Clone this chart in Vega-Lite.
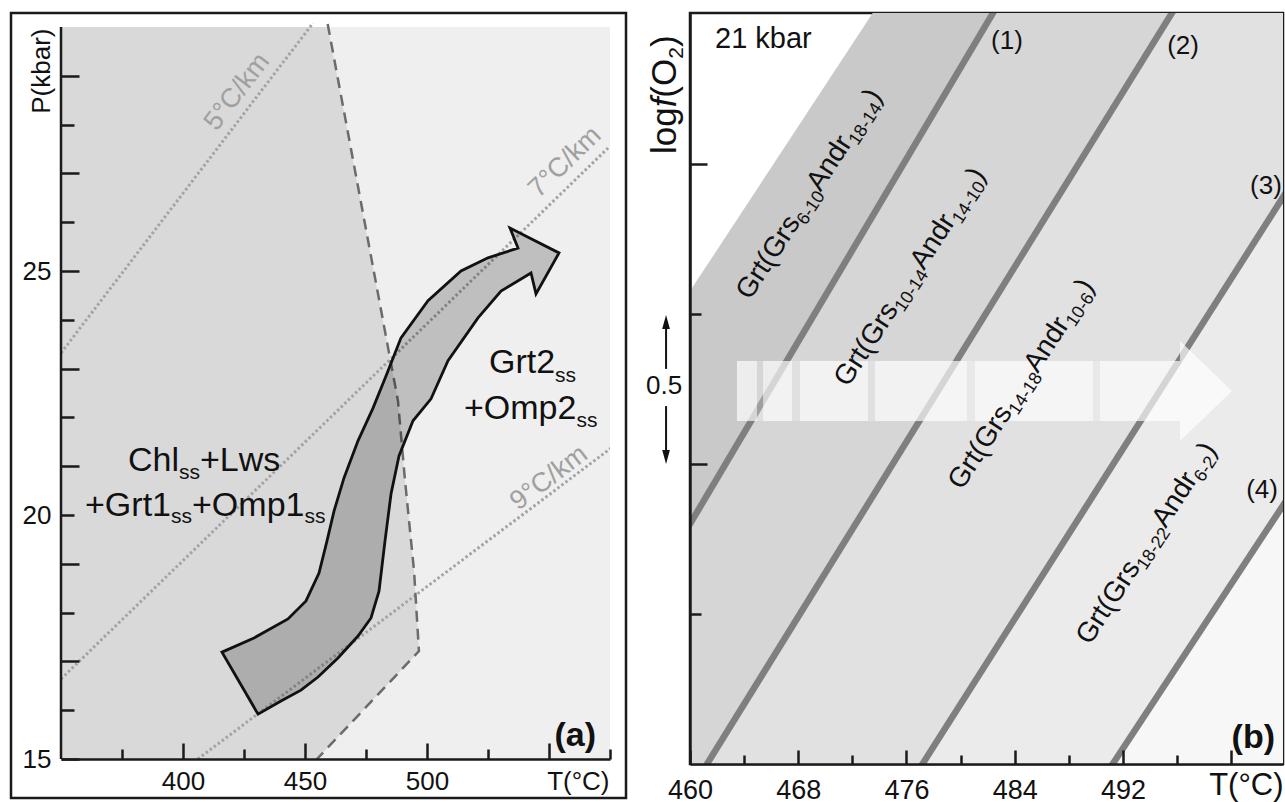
{
  "$schema": "https://vega.github.io/schema/vega-lite/v6.json",
  "background": "white",
  "padding": {"left": 9, "top": 11, "right": 0, "bottom": 0},
  "spacing": 80,
  "bounds": "flush",
  "config": {
    "view": {"stroke": null},
    "font": "Liberation Sans",
    "text": {"font": "Liberation Sans", "color": "#111111"},
    "axis": {
      "zindex": 1, "grid": false, "labelFlush": false,
      "domainColor": "#1a1a1a", "domainWidth": 2.5,
      "tickColor": "#1a1a1a", "tickWidth": 2.5,
      "labelFont": "Liberation Sans", "labelFontSize": 26, "labelColor": "#111111",
      "titleFont": "Liberation Sans", "titleFontSize": 26, "titleFontWeight": "normal", "titleColor": "#111111"
    }
  },
  "datasets": {
    "darkA": [
      {"P": 15, "T": 454.9}, {"P": 17.21, "T": 496.7}, {"P": 18.85, "T": 494.7},
      {"P": 20.7, "T": 491.0}, {"P": 22.34, "T": 488.1}, {"P": 30, "T": 459.4}
    ],
    "geoA": [
      {"g": "5", "T": 350, "P": 23.32}, {"g": "5", "T": 453.3, "P": 30.08},
      {"g": "7", "T": 350, "P": 16.64}, {"g": "7", "T": 574.2, "P": 27.52},
      {"g": "9", "T": 406.1, "P": 15}, {"g": "9", "T": 575.4, "P": 21.37}
    ],
    "dashA": [
      {"i": 1, "T": 459.3, "P": 30.06}, {"i": 2, "T": 488.1, "P": 22.34}, {"i": 3, "T": 491.0, "P": 20.7},
      {"i": 4, "T": 494.7, "P": 18.85}, {"i": 5, "T": 496.7, "P": 17.21}, {"i": 6, "T": 454.9, "P": 15.0}
    ],
    "ptA": [
      {"i": 1, "T": 415.98, "P": 17.19}, {"i": 2, "T": 429.10, "P": 17.48}, {"i": 3, "T": 443.03, "P": 17.87},
      {"i": 4, "T": 450.41, "P": 18.24}, {"i": 5, "T": 455.74, "P": 18.81}, {"i": 6, "T": 459.02, "P": 19.47},
      {"i": 7, "T": 461.89, "P": 20.08}, {"i": 8, "T": 465.98, "P": 20.76}, {"i": 9, "T": 471.72, "P": 21.52},
      {"i": 10, "T": 477.87, "P": 22.19}, {"i": 11, "T": 483.20, "P": 22.85}, {"i": 12, "T": 489.34, "P": 23.63},
      {"i": 13, "T": 500.41, "P": 24.39}, {"i": 14, "T": 513.93, "P": 25.00}, {"i": 15, "T": 525.00, "P": 25.27},
      {"i": 16, "T": 537.30, "P": 25.47}, {"i": 17, "T": 534.02, "P": 25.88}, {"i": 18, "T": 554.10, "P": 25.37},
      {"i": 19, "T": 544.67, "P": 24.53}, {"i": 20, "T": 542.62, "P": 24.96}, {"i": 21, "T": 530.33, "P": 24.59},
      {"i": 22, "T": 520.90, "P": 24.04}, {"i": 23, "T": 508.61, "P": 23.16}, {"i": 24, "T": 501.64, "P": 22.38},
      {"i": 25, "T": 494.26, "P": 21.93}, {"i": 26, "T": 488.52, "P": 21.21}, {"i": 27, "T": 485.25, "P": 20.43},
      {"i": 28, "T": 482.79, "P": 19.47}, {"i": 29, "T": 480.33, "P": 18.44}, {"i": 30, "T": 477.05, "P": 17.89},
      {"i": 31, "T": 471.72, "P": 17.52}, {"i": 32, "T": 463.52, "P": 17.07}, {"i": 33, "T": 455.33, "P": 16.68},
      {"i": 34, "T": 448.36, "P": 16.41}, {"i": 35, "T": 440.16, "P": 16.19}, {"i": 36, "T": 430.74, "P": 15.92}
    ],
    "mainA": [
      {"T": 377.46, "P": 20.902, "text": "Chl"}, {"T": 406.97, "P": 20.902, "text": "+Lws"},
      {"T": 359.84, "P": 19.98, "text": "+Grt1"}, {"T": 403.69, "P": 19.98, "text": "+Omp1"},
      {"T": 525.41, "P": 22.91, "text": "Grt2"}, {"T": 515.16, "P": 21.967, "text": "+Omp2"}
    ],
    "subA": [
      {"T": 398.36, "P": 20.738, "text": "ss"}, {"T": 395.08, "P": 19.836, "text": "ss"},
      {"T": 449.75, "P": 19.836, "text": "ss"}, {"T": 552.46, "P": 22.725, "text": "ss"},
      {"T": 561.23, "P": 21.803, "text": "ss"}
    ],
    "zonesB": [
      {"id": 0, "T": 455, "L": 1.233}, {"id": 0, "T": 510, "L": 5.009},
      {"id": 1, "T": 455, "L": 0.4197}, {"id": 1, "T": 510, "L": 4.603},
      {"id": 2, "T": 455, "L": -0.456}, {"id": 2, "T": 510, "L": 3.551},
      {"id": 3, "T": 455, "L": -1.573}, {"id": 3, "T": 510, "L": 2.327},
      {"id": 4, "T": 455, "L": -2.481}, {"id": 4, "T": 510, "L": 1.284}
    ],
    "barsB": [
      {"T": 463.47, "T2": 464.95, "L": 1.143, "L2": 1.343}, {"T": 465.40, "T2": 467.54, "L": 1.143, "L2": 1.343},
      {"T": 468.13, "T2": 473.16, "L": 1.143, "L2": 1.343}, {"T": 473.67, "T2": 480.47, "L": 1.143, "L2": 1.343},
      {"T": 481.06, "T2": 489.79, "L": 1.143, "L2": 1.343}, {"T": 490.30, "T2": 496.22, "L": 1.143, "L2": 1.343}
    ],
    "rotMainB": [
      {"T": 464.43, "L": 1.543, "text": "Grt(Grs"}, {"T": 469.65, "L": 1.905, "text": "Andr"}, {"T": 473.87, "L": 2.199, "text": ")"},
      {"T": 471.68, "L": 1.253, "text": "Grt(Grs"}, {"T": 477.29, "L": 1.643, "text": "Andr"}, {"T": 481.52, "L": 1.937, "text": ")"},
      {"T": 480.10, "L": 0.91, "text": "Grt(Grs"}, {"T": 485.71, "L": 1.30, "text": "Andr"}, {"T": 489.54, "L": 1.566, "text": ")"},
      {"T": 489.56, "L": 0.393, "text": "Grt(Grs"}, {"T": 495.17, "L": 0.783, "text": "Andr"}, {"T": 498.60, "L": 1.021, "text": ")"}
    ],
    "rotSubB": [
      {"T": 468.56, "L": 1.793, "text": "6-10"}, {"T": 472.39, "L": 2.059, "text": "18-14"},
      {"T": 475.80, "L": 1.503, "text": "10-14"}, {"T": 480.04, "L": 1.797, "text": "14-10"},
      {"T": 484.23, "L": 1.16, "text": "14-18"}, {"T": 488.46, "L": 1.454, "text": "10-6"},
      {"T": 493.69, "L": 0.643, "text": "18-22"}, {"T": 497.92, "L": 0.937, "text": "6-2"}
    ],
    "numB": [
      {"T": 483.43, "L": 2.41, "text": "(1)"}, {"T": 496.44, "L": 2.393, "text": "(2)"},
      {"T": 502.57, "L": 1.927, "text": "(3)"}, {"T": 502.28, "L": 0.913, "text": "(4)"},
      {"T": 458.08, "L": 1.26, "text": "0.5"}
    ]
  },
  "hconcat": [
    {
      "width": 549,
      "height": 746,
      "view": {"stroke": null},
      "encoding": {
        "x": {
          "field": "T", "type": "quantitative",
          "scale": {"domain": [350, 575], "nice": false, "zero": false},
          "axis": {
            "zindex": 2,
            "values": [375, 400, 425, 450, 475, 500, 525, 550, 575],
            "labelExpr": "(datum.value == 400 || datum.value == 450 || datum.value == 500) ? datum.label : ''",
            "tickSize": {"condition": {"test": "datum.value % 50 == 0", "value": -16}, "value": -10},
            "labelPadding": 25,
            "title": "T(°C)", "titleX": 548, "titleY": 30, "titleAlign": "right", "titleBaseline": "alphabetic"
          }
        },
        "y": {
          "field": "P", "type": "quantitative",
          "scale": {"domain": [15, 30.287], "nice": false, "zero": false},
          "axis": {
            "zindex": 2,
            "values": [15, 16, 17, 18, 19, 20, 21, 22, 23, 24, 25, 26, 27, 28, 29],
            "labelExpr": "(datum.value == 15 || datum.value == 20 || datum.value == 25) ? datum.label : ''",
            "tickSize": {"condition": {"test": "datum.value % 2 == 1", "value": -18}, "value": -13},
            "labelPadding": {"condition": {"test": "datum.value % 2 == 1", "value": 28}, "value": 23},
            "domain": false,
            "title": "P(kbar)", "titleX": -12, "titleY": 15, "titleAlign": "right", "titleBaseline": "alphabetic", "titleAngle": 270
          }
        }
      },
      "layer": [
        {
          "data": {"values": [{"T": 350, "T2": 575, "P": 15, "P2": 30}]},
          "mark": {"type": "rect", "color": "#efefef"},
          "encoding": {"x2": {"field": "T2"}, "y2": {"field": "P2"}}
        },
        {
          "data": {"name": "darkA"},
          "mark": {"type": "area", "orient": "horizontal", "color": "#d9d9d9"},
          "encoding": {"x2": {"datum": 350}}
        },
        {
          "data": {"name": "geoA"},
          "mark": {"type": "line", "color": "#a3a3a3", "strokeWidth": 3, "strokeDash": [2.5, 2.5], "clip": true},
          "encoding": {"detail": {"field": "g"}}
        },
        {
          "data": {"name": "dashA"},
          "mark": {"type": "line", "color": "#6b6b6b", "strokeWidth": 2.5, "strokeDash": [11, 7]},
          "encoding": {"order": {"field": "i"}}
        },
        {
          "data": {"name": "ptA"},
          "mark": {"type": "line", "interpolate": "linear-closed", "fill": "#000000", "fillOpacity": 0.2, "stroke": "#111111", "strokeWidth": 2.8, "strokeJoin": "miter"},
          "encoding": {"order": {"field": "i"}}
        },
        {
          "data": {"values": [{"T": 422.13, "P": 28.67, "text": "5°C/km"}]},
          "mark": {"type": "text", "angle": 307.4, "fontSize": 27, "color": "#a0a0a0", "align": "center", "baseline": "middle"},
          "encoding": {"text": {"field": "text"}}
        },
        {
          "data": {"values": [{"T": 556.56, "P": 27.23, "text": "7°C/km"}]},
          "mark": {"type": "text", "angle": 316, "fontSize": 27, "color": "#a0a0a0", "align": "center", "baseline": "middle"},
          "encoding": {"text": {"field": "text"}}
        },
        {
          "data": {"values": [{"T": 550.0, "P": 20.76, "text": "9°C/km"}]},
          "mark": {"type": "text", "angle": 323, "fontSize": 27, "color": "#a0a0a0", "align": "center", "baseline": "middle"},
          "encoding": {"text": {"field": "text"}}
        },
        {
          "data": {"name": "mainA"},
          "mark": {"type": "text", "fontSize": 34, "align": "left", "baseline": "alphabetic"},
          "encoding": {"text": {"field": "text"}}
        },
        {
          "data": {"name": "subA"},
          "mark": {"type": "text", "fontSize": 21, "align": "left", "baseline": "alphabetic"},
          "encoding": {"text": {"field": "text"}}
        },
        {
          "data": {"values": [{"T": 569.26, "P": 15.27, "text": "(a)"}]},
          "mark": {"type": "text", "fontSize": 34, "fontWeight": "bold", "align": "right", "baseline": "alphabetic"},
          "encoding": {"text": {"field": "text"}}
        },
        {
          "data": {"values": [{"T": 329.51, "T2": 581.56, "P": 30.287, "P2": 14.2}]},
          "mark": {"type": "rect", "filled": false, "stroke": "#1a1a1a", "strokeWidth": 2.5},
          "encoding": {"x2": {"field": "T2"}, "y2": {"field": "P2"}}
        },
        {
          "data": {"values": [{"T": 350, "P": 15, "P2": 30}]},
          "mark": {"type": "rule", "color": "#1a1a1a", "strokeWidth": 2.5},
          "encoding": {"y2": {"field": "P2"}}
        }
      ]
    },
    {
      "width": 593,
      "height": 751,
      "view": {"stroke": "#1a1a1a", "strokeWidth": 2.5},
      "encoding": {
        "x": {
          "field": "T", "type": "quantitative",
          "scale": {"domain": [460, 503.83], "nice": false, "zero": false},
          "axis": {
            "zindex": 2,
            "values": [460, 464, 468, 472, 476, 480, 484, 488, 492, 496, 500],
            "labelExpr": "(datum.value % 8 == 4 && datum.value < 500) ? datum.label : ''",
            "tickSize": {"condition": {"test": "datum.value % 8 == 4", "value": -14}, "value": -9},
            "labelPadding": 27,
            "labelFontSize": 27,
            "title": "T(°C)", "titleX": 593, "titleY": 30, "titleAlign": "right", "titleBaseline": "alphabetic", "titleFontSize": 31
          }
        },
        "y": {
          "field": "L", "type": "quantitative",
          "scale": {"domain": [0, 2.5033], "nice": false, "zero": false},
          "axis": {
            "zindex": 2,
            "values": [0.5, 1, 1.5, 2],
            "labels": false,
            "tickSize": {"condition": {"test": "datum.value % 1 == 0", "value": -17}, "value": -11},
            "title": null
          }
        }
      },
      "layer": [
        {"data": {"name": "zonesB"}, "transform": [{"filter": "datum.id == 0"}], "mark": {"type": "area", "color": "#c9c9c9", "clip": true}, "encoding": {"y2": {"datum": -3}}},
        {"data": {"name": "zonesB"}, "transform": [{"filter": "datum.id == 1"}], "mark": {"type": "area", "color": "#d6d6d6", "clip": true}, "encoding": {"y2": {"datum": -3}}},
        {"data": {"name": "zonesB"}, "transform": [{"filter": "datum.id == 2"}], "mark": {"type": "area", "color": "#e1e1e1", "clip": true}, "encoding": {"y2": {"datum": -3}}},
        {"data": {"name": "zonesB"}, "transform": [{"filter": "datum.id == 3"}], "mark": {"type": "area", "color": "#ebebeb", "clip": true}, "encoding": {"y2": {"datum": -3}}},
        {"data": {"name": "zonesB"}, "transform": [{"filter": "datum.id == 4"}], "mark": {"type": "area", "color": "#f7f7f7", "clip": true}, "encoding": {"y2": {"datum": -3}}},
        {
          "data": {"name": "zonesB"}, "transform": [{"filter": "datum.id > 0"}],
          "mark": {"type": "line", "color": "#7f7f7f", "strokeWidth": 6.5, "clip": true},
          "encoding": {"detail": {"field": "id"}}
        },
        {
          "data": {"values": [{"T": 463.47, "T2": 496.22, "L": 1.143, "L2": 1.343}]},
          "mark": {"type": "rect", "color": "#ffffff", "opacity": 0.25},
          "encoding": {"x2": {"field": "T2"}, "y2": {"field": "L2"}}
        },
        {
          "data": {"name": "barsB"},
          "mark": {"type": "rect", "color": "#ffffff", "opacity": 0.57},
          "encoding": {"x2": {"field": "T2"}, "y2": {"field": "L2"}}
        },
        {
          "data": {"values": [{"T": 496.22, "L": 1.41, "L2": 1.077}, {"T": 500.06, "L": 1.243, "L2": 1.243}]},
          "mark": {"type": "area", "color": "#ffffff", "opacity": 0.68},
          "encoding": {"y2": {"field": "L2"}}
        },
        {
          "data": {"name": "rotMainB"},
          "mark": {"type": "text", "angle": 303, "fontSize": 28, "align": "left", "baseline": "alphabetic"},
          "encoding": {"text": {"field": "text"}}
        },
        {
          "data": {"name": "rotSubB"},
          "mark": {"type": "text", "angle": 303, "fontSize": 18, "align": "left", "baseline": "alphabetic"},
          "encoding": {"text": {"field": "text"}}
        },
        {
          "data": {"name": "numB"},
          "mark": {"type": "text", "fontSize": 26, "align": "center", "baseline": "middle"},
          "encoding": {"text": {"field": "text"}}
        },
        {
          "data": {"values": [{"T": 461.85, "L": 2.387, "text": "21 kbar"}]},
          "mark": {"type": "text", "fontSize": 29, "align": "left", "baseline": "alphabetic"},
          "encoding": {"text": {"field": "text"}}
        },
        {
          "data": {"values": [{"T": 503.24, "L": 0.053, "text": "(b)"}]},
          "mark": {"type": "text", "fontSize": 34, "fontWeight": "bold", "align": "right", "baseline": "alphabetic"},
          "encoding": {"text": {"field": "text"}}
        },
        {
          "data": {"values": [{"T": 458.94, "L": 2.033, "text": "log"}, {"T": 458.94, "L": 2.221, "text": "(O"}, {"T": 458.94, "L": 2.39, "text": ")"}]},
          "mark": {"type": "text", "angle": 270, "fontSize": 35, "align": "left", "baseline": "alphabetic"},
          "encoding": {"text": {"field": "text"}}
        },
        {
          "data": {"values": [{"T": 458.94, "L": 2.189, "text": "f"}]},
          "mark": {"type": "text", "angle": 270, "fontSize": 35, "fontStyle": "italic", "align": "left", "baseline": "alphabetic"},
          "encoding": {"text": {"field": "text"}}
        },
        {
          "data": {"values": [{"T": 459.45, "L": 2.351, "text": "2"}]},
          "mark": {"type": "text", "angle": 270, "fontSize": 21, "align": "left", "baseline": "alphabetic"},
          "encoding": {"text": {"field": "text"}}
        },
        {
          "data": {"values": [{"T": 458.23, "L": 1.317, "L2": 1.46}, {"T": 458.23, "L": 1.193, "L2": 1.037}]},
          "mark": {"type": "rule", "color": "#111111", "strokeWidth": 2},
          "encoding": {"y2": {"field": "L2"}}
        },
        {
          "data": {"values": [{"T": 458.23, "L": 1.473}]},
          "mark": {"type": "point", "shape": "M0,-1L0.55,1L-0.55,1Z", "size": 196, "filled": true, "color": "#111111", "opacity": 1},
          "encoding": {}
        },
        {
          "data": {"values": [{"T": 458.23, "L": 1.023}]},
          "mark": {"type": "point", "shape": "M0,1L0.55,-1L-0.55,-1Z", "size": 196, "filled": true, "color": "#111111", "opacity": 1},
          "encoding": {}
        }
      ]
    }
  ]
}
